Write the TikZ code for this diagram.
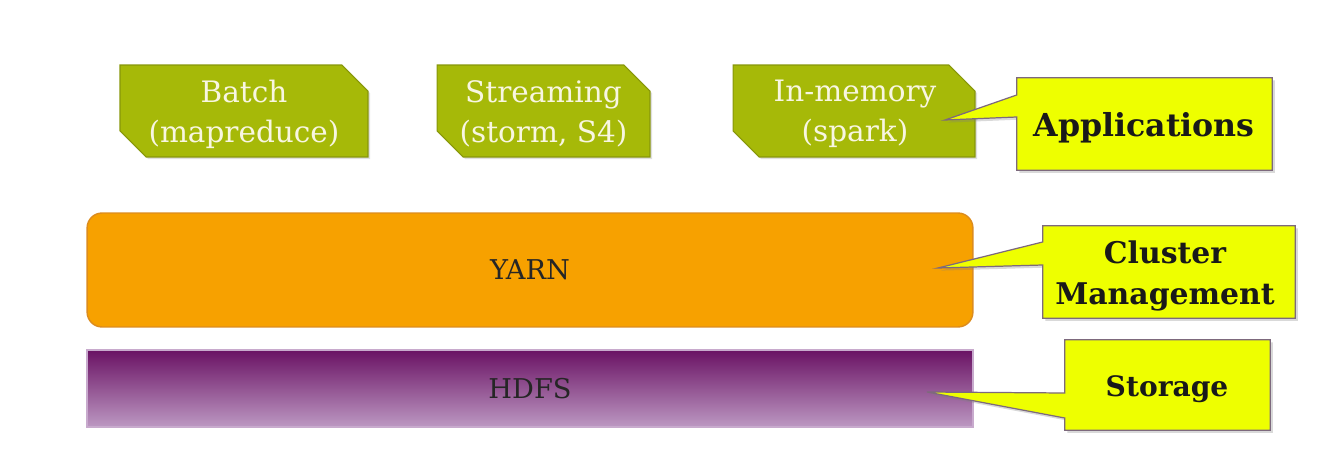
\documentclass[tikz,border=0pt]{standalone}
\usepackage{fontspec}
\setmainfont{DejaVu Serif}
\usetikzlibrary{shapes.misc,shadows}
\pgfdeclarelayer{bottom}
\pgfdeclarelayer{middle}
\pgfsetlayers{bottom,middle,main}
\definecolor{appgreen}{RGB}{166,185,8}
\definecolor{appgreenedge}{RGB}{135,150,10}
\definecolor{appcream}{RGB}{248,246,225}
\definecolor{yarnorange}{RGB}{247,161,0}
\definecolor{yarnedge}{RGB}{220,140,30}
\definecolor{hdfstop}{RGB}{106,18,100}
\definecolor{hdfsbot}{RGB}{188,152,194}
\definecolor{hdfsedge}{RGB}{200,170,205}
\definecolor{callyellow}{RGB}{238,255,0}
\definecolor{calledge}{RGB}{125,105,125}
\newcommand{\boxfiller}{\phantom{\rule{3cm}{1.2cm}}}
\tikzset{
  appbox/.style={chamfered rectangle, chamfered rectangle corners={north east,south west},
    chamfered rectangle xsep=0.26cm, chamfered rectangle ysep=0.26cm,
    fill=appgreen, draw=appgreenedge, line width=0.6pt, inner sep=0pt,
    drop shadow={opacity=0.25, shadow xshift=1.2pt, shadow yshift=-1.2pt},
    minimum height=1.84cm},
  apptext/.style={inner sep=0pt, text=appcream, font=\fontsize{16.8pt}{22.7pt}\selectfont, align=center},
  layerbox/.style={inner sep=0pt, minimum width=17.72cm, font=\fontsize{15.5pt}{18pt}\selectfont, text=black!85},
  callbox/.style={inner sep=0pt},
  calltext/.style={inner sep=0pt, align=center, font=\fontsize{17pt}{23pt}\selectfont\bfseries, text=black!90},
  callshape/.style={fill=callyellow, draw=calledge, line width=0.7pt, line join=miter,
    drop shadow={opacity=0.3, shadow xshift=1.5pt, shadow yshift=-1.5pt}},
}
\begin{document}
\begin{tikzpicture}[x=0.02cm,y=-0.02cm]
\useasboundingbox (0,0) rectangle (1344,472);
\begin{pgfonlayer}{bottom}
% application boxes
\node[appbox, minimum width=4.96cm] (batch) at (244,111) {\boxfiller};
\node[appbox, minimum width=4.26cm] (stream) at (543.5,111) {\boxfiller};
\node[appbox, minimum width=4.84cm] (inmem) at (854,111) {\boxfiller};
% layers
\node[layerbox, minimum height=2.28cm, fill=yarnorange, draw=yarnedge, line width=0.8pt, rounded corners=0.3cm] (yarn) at (530,270) {YARN};
\node[layerbox, minimum height=1.54cm, top color=hdfstop, bottom color=hdfsbot, draw=hdfsedge, line width=0.8pt] (hdfs) at (530,388.5) {HDFS};
\end{pgfonlayer}
\node[apptext] (batchT) at (244,114) {Batch\\(mapreduce)};
\node[apptext] (streamT) at (543.5,114) {Streaming\\(storm, S4)};
\node[apptext] (inmemT) at (855,114) {In-memory\\(spark)};
% callout boxes
\node[callbox, minimum width=5.1cm, minimum height=1.84cm] (app) at (1144.5,124) {};
\node[callbox, minimum width=5.04cm, minimum height=1.84cm] (clu) at (1169,272) {};
\node[callbox, minimum width=4.1cm, minimum height=1.8cm] (sto) at (1167.5,385) {};
\node[calltext, font=\fontsize{18pt}{23pt}\selectfont\bfseries] (appT) at (1144,128) {Applications};
\node[calltext] (cluT) at (1165,276) {Cluster\\Management};
\node[calltext, font=\fontsize{16pt}{23pt}\selectfont\bfseries] (stoT) at (1167,389) {Storage};
% pointer tips and base points
\coordinate (appTip) at (945,120);
\coordinate (appA) at (0,95);
\coordinate (appB) at (0,117);
\coordinate (cluTip) at (938,268);
\coordinate (cluA) at (0,242);
\coordinate (cluB) at (0,265);
\coordinate (stoTip) at (927,392);
\coordinate (stoA) at (0,393);
\coordinate (stoB) at (0,418);
\begin{pgfonlayer}{middle}
\path[callshape] (app.north west) -- (app.north east) -- (app.south east) -- (app.south west)
  -- (app.west |- appB) -- (appTip) -- (app.west |- appA) -- cycle;
\path[callshape] (clu.north west) -- (clu.north east) -- (clu.south east) -- (clu.south west)
  -- (clu.west |- cluB) -- (cluTip) -- (clu.west |- cluA) -- cycle;
\path[callshape] (sto.north west) -- (sto.north east) -- (sto.south east) -- (sto.south west)
  -- (sto.west |- stoB) -- (stoTip) -- (sto.west |- stoA) -- cycle;
\end{pgfonlayer}
\end{tikzpicture}
\end{document}
